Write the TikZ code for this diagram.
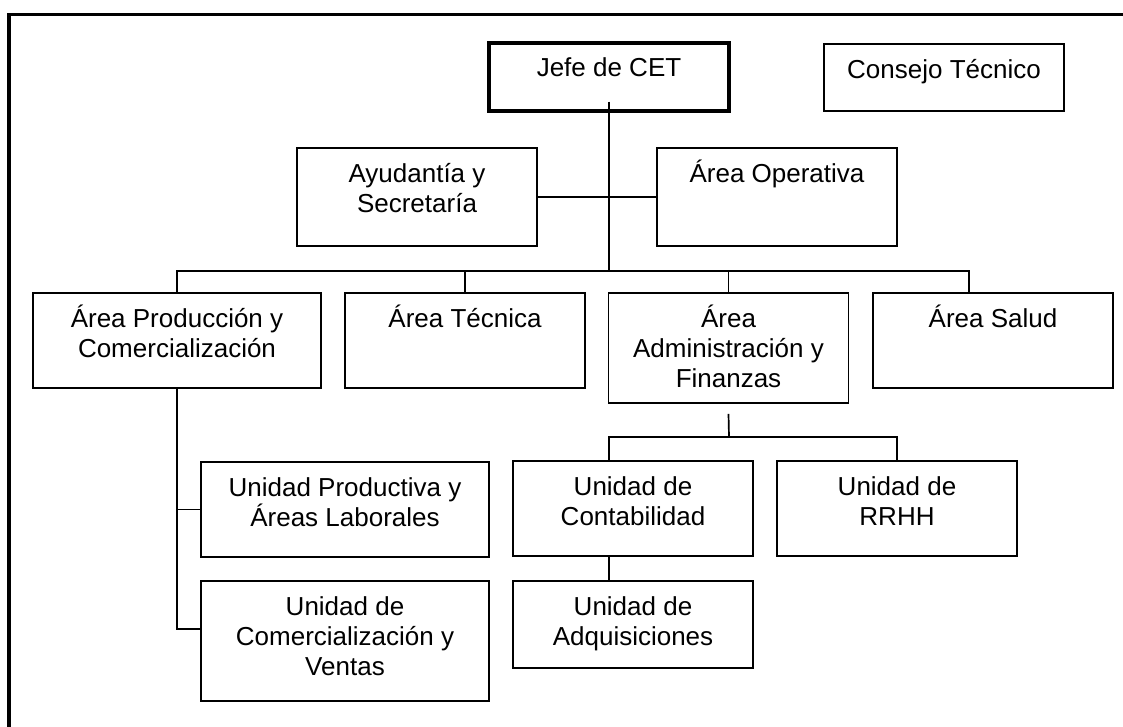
\documentclass[tikz,border=0pt]{standalone}
\usepackage{fontspec}
\setmainfont{Liberation Sans}
\usetikzlibrary{positioning,calc}
\newcommand{\orgtext}[2]{\node[txt] (#1t) at ([yshift=-35pt]#1.north) {\parbox[t]{280pt}{\centering #2}};}

\begin{document}
\begin{tikzpicture}[
    x=1pt, y=-1pt,
    box/.style={draw, line width=1.7pt, inner sep=0, minimum width=240pt, minimum height=#1},
    box/.default=95pt,
    wide/.style={minimum width=288pt},
    chief/.style={line width=3.3pt},
    txt/.style={anchor=base, inner sep=0, font=\fontsize{26}{30}\selectfont},
    conn/.style={line width=1.7pt},
    frame/.style={line width=3.3pt}]
\useasboundingbox (0,0) rectangle (1123,727);
\draw[frame] (9,727) -- (9,14.3) -- (1123,14.3);

% top
\node[box=68pt, chief] (jefe) at (609,77) {};
\node[box=67pt] (consejo) at (944,77.5) {};
\node[box=98pt] (ayud) at (417,197) {};
\node[box=98pt] (oper) at (777,197) {};
% areas
\node[box, wide] (prod) at (177,340.5) {};
\node[box] (tec) at (465,340.5) {};
\node[box=110pt] (adm) at (728.5,348) {};
\node[box] (salud) at (993,340.5) {};
% unidades
\node[box, wide] (uprod) at (345,509.5) {};
\node[box=120pt, wide] (ucom) at (345,641) {};
\node[box] (ucont) at (633,508.5) {};
\node[box] (urrhh) at (897,508.5) {};
\node[box=87pt] (uadq) at (633,624.5) {};

\orgtext{jefe}{Jefe de CET}
\orgtext{consejo}{Consejo Técnico}
\orgtext{ayud}{Ayudantía y\\Secretaría}
\orgtext{oper}{Área Operativa}
\orgtext{prod}{Área Producción y\\Comercialización}
\orgtext{tec}{Área Técnica}
\orgtext{adm}{Área\\Administración y\\Finanzas}
\orgtext{salud}{Área Salud}
\orgtext{uprod}{Unidad Productiva y\\Áreas Laborales}
\orgtext{ucom}{Unidad de\\Comercialización y\\Ventas}
\orgtext{ucont}{Unidad de\\Contabilidad}
\orgtext{urrhh}{Unidad de\\RRHH}
\orgtext{uadq}{Unidad de\\Adquisiciones}

\coordinate (bus) at (609,271);
\coordinate (bus2) at (729,437);

\draw[conn] ([yshift=11pt]jefe.south) -- (bus);
\draw[conn] (ayud.east) -- (oper.west);
\draw[conn] (prod.north) |- (bus) -| ([xshift=-24pt]salud.north);
\draw[conn] (tec.north) -- (tec.north |- bus);
\draw[conn] (adm.north) -- (adm.north |- bus);
\draw[conn] ([yshift=-10pt]adm.south) -- (bus2);
\draw[conn] ([xshift=-24pt]ucont.north) |- (bus2) -| (urrhh.north);
\draw[conn] ([xshift=-24pt]ucont.south) -- ([xshift=-24pt]uadq.north);
\draw[conn] (prod.south) |- ([yshift=12pt]ucom.west);
\draw[conn] (prod.south |- uprod.west) -- (uprod.west);

\end{tikzpicture}
\end{document}
